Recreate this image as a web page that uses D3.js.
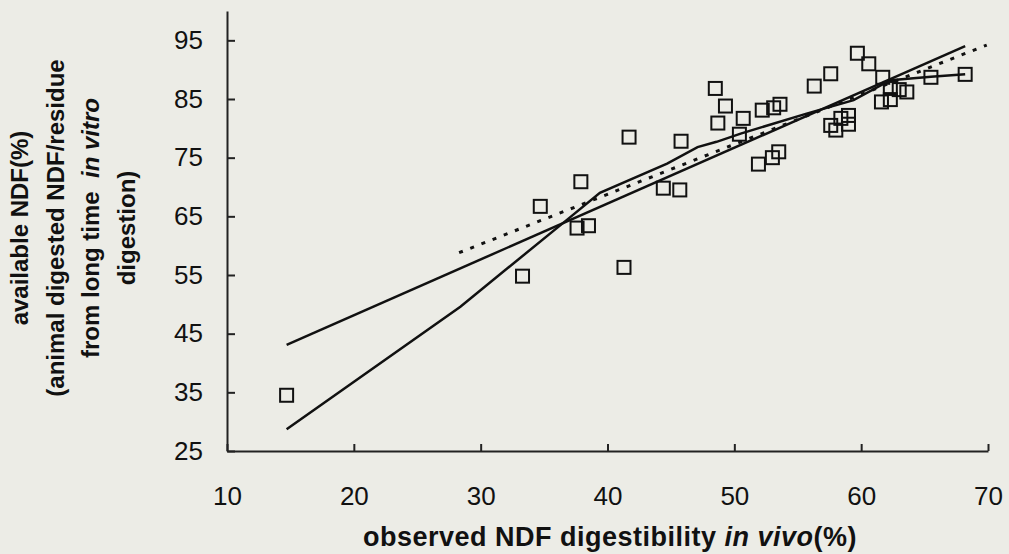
<!DOCTYPE html>
<html>
<head>
<meta charset="utf-8">
<script src="https://cdn.jsdelivr.net/npm/d3@7"></script>
<style>
  body { margin: 0; background: #ecece6; }
  svg { display: block; }
  text { font-family: "Liberation Sans", Arial, sans-serif; fill: #111; }
</style>
</head>
<body>
<svg id="chart" width="1009" height="554"></svg>
<script>
    // observed points (in vivo vs available NDF)
    var obsX = [14.7, 33.3, 34.7, 37.6, 38.5, 37.9, 41.3, 41.7, 44.4, 45.7, 45.8,
                48.5, 48.7, 49.3, 50.4, 50.7, 51.9, 52.2, 53.0, 53.1, 53.5, 53.6,
                56.3, 57.6, 57.6, 58.0, 58.4, 59.0, 59.0, 59.7, 60.6, 61.6, 61.7,
                62.3, 62.3, 63.0, 63.6, 65.5, 68.2];
    var obsY = [34.5, 54.8, 66.7, 63.0, 63.4, 70.9, 56.3, 78.5, 69.8, 69.5, 77.8,
                86.8, 80.9, 83.8, 79.0, 81.7, 73.9, 83.1, 75.0, 83.5, 76.0, 84.1,
                87.2, 89.3, 80.5, 79.7, 81.7, 82.2, 80.7, 92.8, 91.0, 84.5, 88.7,
                84.9, 86.8, 86.6, 86.2, 88.7, 89.2];

    // straight regression line (solid)
    var linX = [14.7, 68.2];
    var linY = [43.1, 94.0];

    // fitted curve (solid)
    var fitX = [14.7, 28.4, 36.8, 39.4, 44.7, 47.1, 48.6, 50.5, 55.7, 59.4, 62.3, 65.5, 68.2];
    var fitY = [28.7, 49.6, 64.4, 69.0, 74.0, 76.8, 77.7, 79.1, 82.5, 84.8, 88.2, 88.8, 89.2];

    // dotted line
    var dotX = [28.3, 69.9];
    var dotY = [58.8, 94.2];

    var xTicks = [10, 20, 30, 40, 50, 60, 70];
    var yTicks = [25, 35, 45, 55, 65, 75, 85, 95];

    var svg = d3.select("#chart");

    var x = d3.scaleLinear().domain([10, 70]).range([227, 988]);
    var y = d3.scaleLinear().domain([25, 100]).range([451, 11]);

    var xAxis = svg.append("g")
      .attr("transform", "translate(0," + y(25) + ")")
      .call(d3.axisBottom(x).tickValues(xTicks).tickSize(-7).tickSizeOuter(0).tickPadding(36));
    var yAxis = svg.append("g")
      .attr("transform", "translate(" + x(10) + ",0)")
      .call(d3.axisLeft(y).tickValues(yTicks).tickSize(-8).tickSizeOuter(0).tickPadding(24));

    [xAxis, yAxis].forEach(function (a) {
      a.selectAll("path, line").attr("stroke", "#222").attr("stroke-width", 2);
      a.selectAll("text").style("font-size", "26px").attr("fill", "#111");
    });

    var line = d3.line().x(function (d) { return x(d[0]); }).y(function (d) { return y(d[1]); });

    svg.append("path")
      .attr("d", line(d3.zip(linX, linY)))
      .attr("fill", "none").attr("stroke", "#111").attr("stroke-width", 2.5);

    svg.append("path")
      .attr("d", line(d3.zip(fitX, fitY)))
      .attr("fill", "none").attr("stroke", "#111").attr("stroke-width", 2.5);

    svg.append("path")
      .attr("d", line(d3.zip(dotX, dotY)))
      .attr("fill", "none").attr("stroke", "#111").attr("stroke-width", 3)
      .attr("stroke-dasharray", "4,8");

    svg.selectAll("rect.pt")
      .data(d3.zip(obsX, obsY))
      .enter().append("rect")
      .attr("class", "pt")
      .attr("x", function (d) { return x(d[0]) - 6.5; })
      .attr("y", function (d) { return y(d[1]) - 6.5; })
      .attr("width", 13).attr("height", 13)
      .attr("fill", "none").attr("stroke", "#111").attr("stroke-width", 2);

    // x axis title
    var xt = svg.append("text")
      .attr("x", 610).attr("y", 546)
      .attr("text-anchor", "middle")
      .style("font-size", "27px").style("font-weight", "bold")
      .style("letter-spacing", "0.5px");
    xt.append("tspan").text("observed NDF digestibility ");
    xt.append("tspan").style("font-style", "italic").text("in vivo");
    xt.append("tspan").text("(%)");

    // y axis title, four lines
    var yt = svg.append("g").attr("transform", "translate(0,228) rotate(-90)");
    var lines = [
      [["available NDF(%)", false]],
      [["(animal digested NDF/residue", false]],
      [["from long time  ", false], ["in vitro", true]],
      [["digestion)", false]]
    ];
    lines.forEach(function (parts, i) {
      var t = yt.append("text")
        .attr("x", 0).attr("y", 28 + i * 35.5)
        .attr("text-anchor", "middle")
        .style("font-size", "24px").style("font-weight", "bold")
        .attr("xml:space", "preserve");
      parts.forEach(function (p) {
        t.append("tspan").style("font-style", p[1] ? "italic" : "normal").text(p[0]);
      });
    });
</script>
</body>
</html>
